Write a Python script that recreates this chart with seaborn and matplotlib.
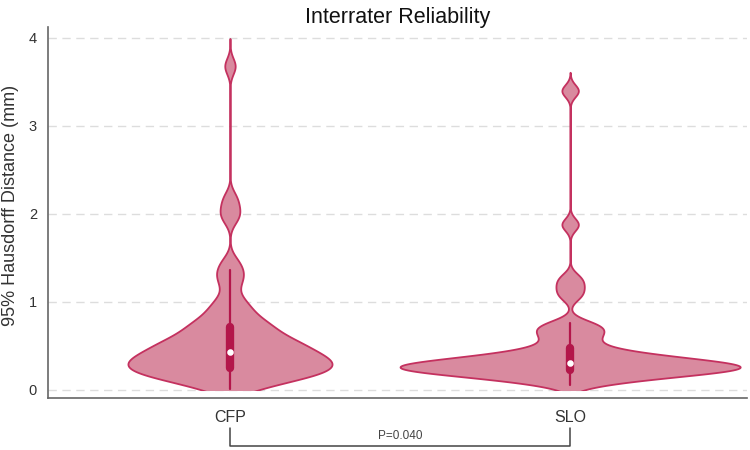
import numpy as np
import pandas as pd
import matplotlib
matplotlib.use("Agg")
import matplotlib.pyplot as plt
import matplotlib.transforms as mtransforms
from matplotlib.patches import Rectangle
import seaborn as sns

# 95% Hausdorff distance (mm) between raters, per modality
groups = ["CFP", "SLO"]
cfp = [0.01, 0.03, 0.06, 0.08, 0.11, 0.13, 0.15, 0.16, 0.17, 0.18, 0.19,
       0.20, 0.21, 0.22, 0.23, 0.24, 0.26, 0.27, 0.28, 0.29, 0.30, 0.31,
       0.32, 0.33, 0.34, 0.35, 0.36, 0.38, 0.39, 0.40, 0.41, 0.42, 0.44,
       0.45, 0.47, 0.48, 0.50, 0.51, 0.53, 0.54, 0.56, 0.57, 0.59,
       0.61, 0.64, 0.66, 0.69, 0.71, 0.74, 0.76, 0.79,
       0.83, 0.88, 0.93, 0.98, 1.06,
       1.20, 1.29, 1.36, 1.46, 1.95, 2.05, 2.18, 3.68]
slo = [0.06, 0.10, 0.12, 0.14, 0.15, 0.16, 0.18, 0.19, 0.20, 0.21, 0.22,
       0.23, 0.23, 0.24, 0.24, 0.25, 0.25, 0.26, 0.27, 0.27, 0.28, 0.29,
       0.30, 0.31, 0.31, 0.32, 0.33, 0.34, 0.35, 0.37, 0.38, 0.39, 0.41,
       0.43, 0.46,
       0.50, 0.56, 0.61, 0.65, 0.69, 0.73, 0.76,
       1.07, 1.17, 1.27, 1.88, 3.40]
p_text = "P=0.040"

df = pd.DataFrame({
    "group": ["CFP"] * len(cfp) + ["SLO"] * len(slo),
    "dist": cfp + slo,
})

fill_col = "#d98a9f"
edge_col = "#c4315f"
box_col = "#b3164a"

sns.set_style("white")
plt.rcParams["font.family"] = ["Liberation Sans", "DejaVu Sans"]


def fixed_bw(h):
    # kernel bandwidth in data units, whatever the spread of the group
    return lambda kde: h / kde.dataset.std(ddof=1)


fig = plt.figure(figsize=(7.5, 4.5), dpi=100)
ax = fig.add_axes([48 / 750, 1 - 398 / 450, 699 / 750, 371 / 450])

# one call per group so each gets its own bandwidth and width
settings = {"CFP": (0.09, 3.5, 0.60), "SLO": (0.07, 3.0, 1.00)}
for g in groups:
    h, c, w = settings[g]
    sns.violinplot(data=df[df["group"] == g], x="group", y="dist", order=groups,
                   color=fill_col, saturation=1, linecolor=edge_col, linewidth=1.3,
                   bw_method=fixed_bw(h), cut=c, gridsize=500, width=w,
                   inner="box", inner_kws=dict(box_width=6, whis_width=1.6,
                                               marker="o", color=box_col),
                   ax=ax)

# violins stop at zero
for coll in ax.collections:
    coll.set_clip_path(Rectangle((-5, 0), 10, 10, transform=ax.transData))

# white median dots
for ln in ax.lines:
    if ln.get_marker() == "o":
        ln.set_markerfacecolor("white")
        ln.set_markeredgecolor("white")
        ln.set_markersize(3.5)

ax.set_xlim(-0.535, 1.52)
ax.set_ylim(-0.091, 4.125)
ax.set_yticks([0, 1, 2, 3, 4])
ax.yaxis.grid(True, color="#dddddd", linestyle=(0, (6, 4)), linewidth=1)
ax.set_axisbelow(True)
for s in ["top", "right"]:
    ax.spines[s].set_visible(False)
for s in ["left", "bottom"]:
    ax.spines[s].set_color("#666666")
    ax.spines[s].set_linewidth(1.2)
ax.tick_params(axis="y", length=6, width=1, color="#666666", pad=2,
               labelsize=10.5, labelcolor="#333333")
ax.tick_params(axis="x", length=0, pad=9, labelsize=11.5, labelcolor="#333333")

ax.set_xlabel("")
ax.set_ylabel("95% Hausdorff Distance (mm)", fontsize=13, color="#333333")
ax.yaxis.set_label_coords(-0.0415, 0.52)
ax.set_title("Interrater Reliability", fontsize=15.5, color="#111111", pad=3)

# significance bracket under the axis
tr = mtransforms.blended_transform_factory(ax.transData, ax.transAxes)
ax.plot([0, 0, 1, 1], [-0.081, -0.129, -0.129, -0.081], transform=tr,
        clip_on=False, color="#444444", linewidth=1.1)
ax.text(0.5, -0.103, p_text, transform=tr, ha="center", va="center",
        fontsize=8.5, color="#444444")

fig.savefig("out.png", dpi=100)
